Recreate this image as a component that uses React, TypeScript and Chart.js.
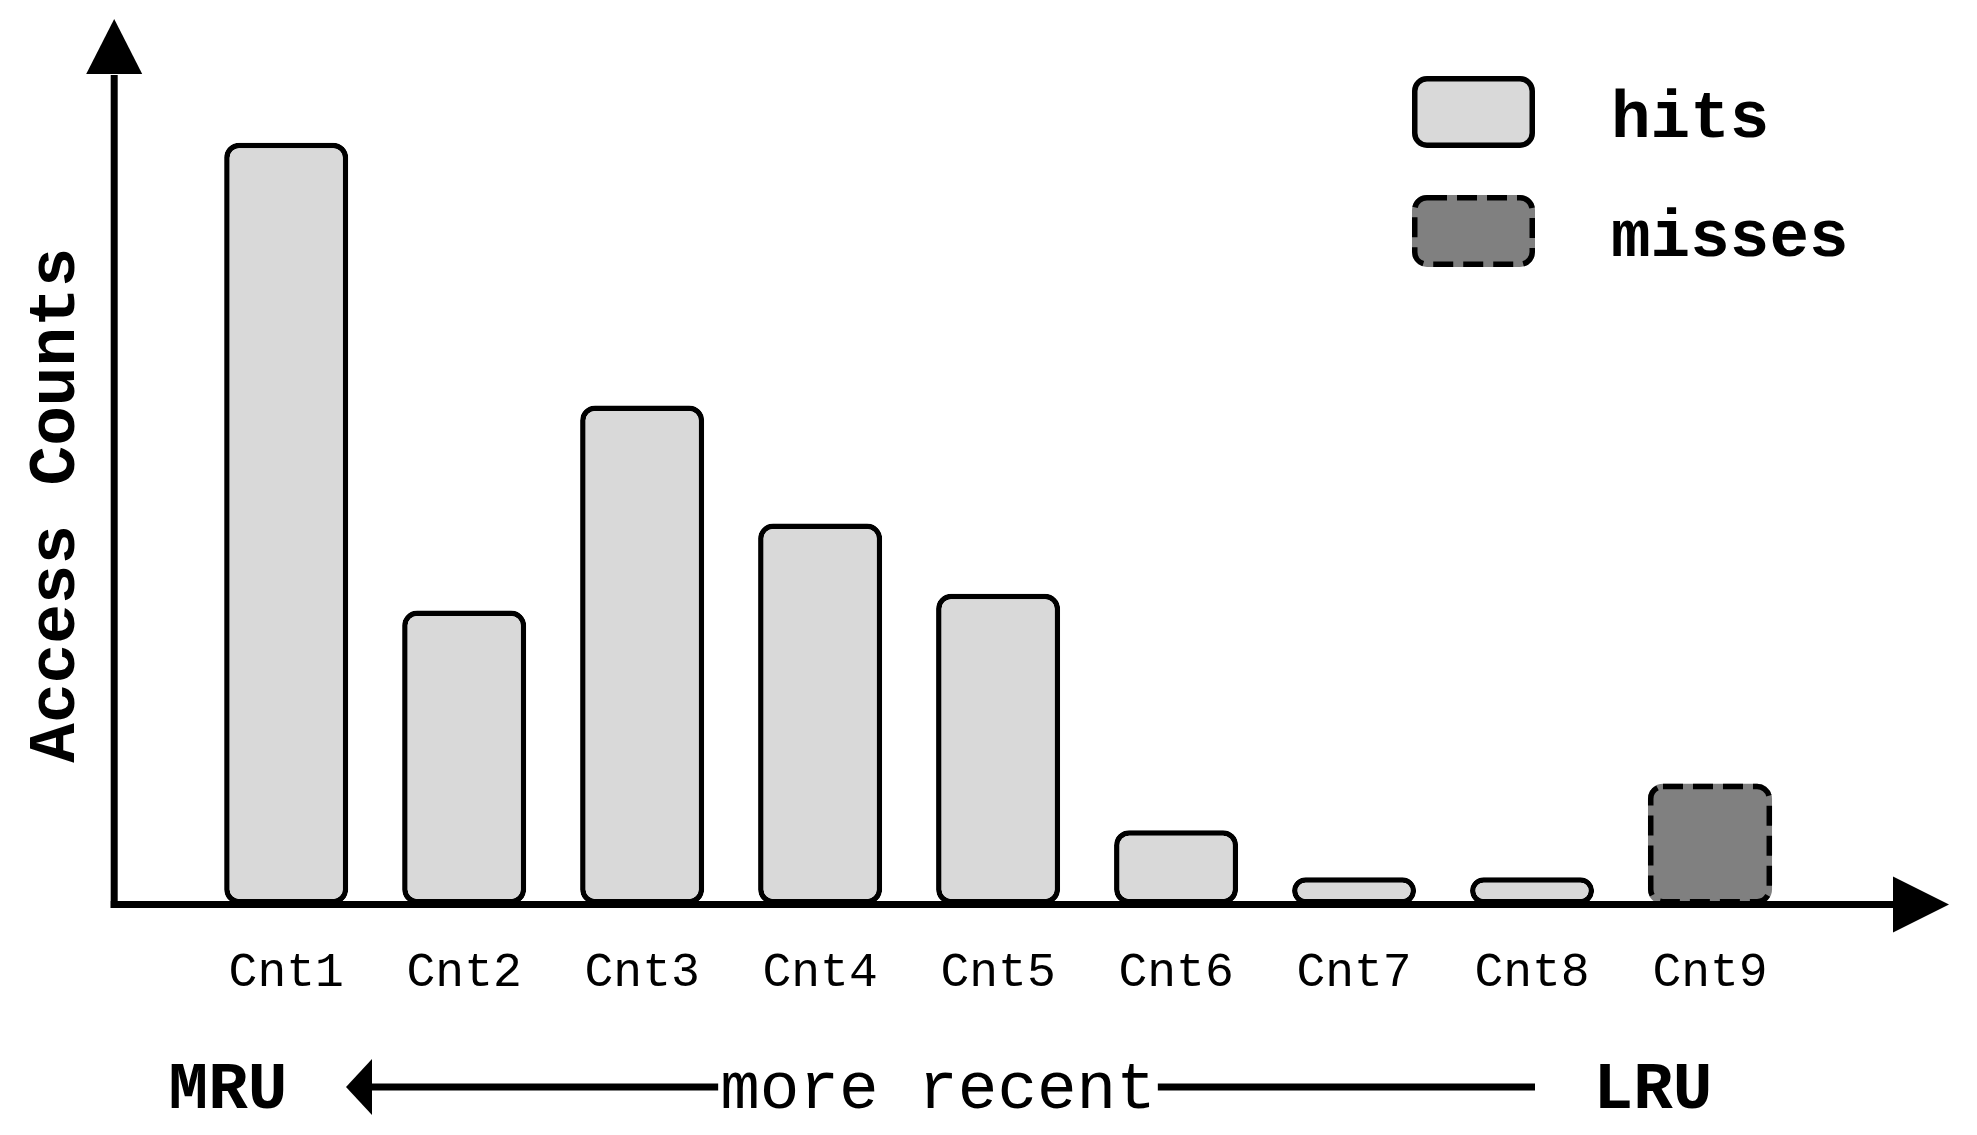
import React, { useEffect, useRef } from "react";
import { Chart, registerables } from "chart.js";

Chart.register(...registerables);

// ---- data ----
const categories = ["Cnt1", "Cnt2", "Cnt3", "Cnt4", "Cnt5", "Cnt6", "Cnt7", "Cnt8", "Cnt9"];
const hits = [95.4, 36.8, 62.5, 47.7, 38.9, 9.3, 3.4, 3.4, null];
const misses = [null, null, null, null, null, null, null, null, 15.1];
const seriesLabels = ["hits", "misses"];
const yAxisTitle = "Access Counts";
const recencyLeft = "MRU";
const recencyMiddle = "more recent";
const recencyRight = "LRU";
const Y_MAX = 100;

// ---- style ----
const FONT = "'Liberation Mono', 'Courier New', monospace";
const HIT_FILL = "#d9d9d9";
const MISS_FILL = "#808080";
const BORDER_W = 5.5;
const RADIUS = 15;
const MISS_DASH = [20, 10];
const AXIS_W = 7;

function arrowHead(ctx: CanvasRenderingContext2D, pts: number[][]) {
  ctx.beginPath();
  ctx.moveTo(pts[0][0], pts[0][1]);
  for (let i = 1; i < pts.length; i++) ctx.lineTo(pts[i][0], pts[i][1]);
  ctx.closePath();
  ctx.fill();
}

const decorPlugin = {
  id: "decor",
  afterDatasetsDraw(chart: any) {
    const ctx: CanvasRenderingContext2D = chart.ctx;
    const area = chart.chartArea;
    const yS = chart.scales.y;

    // dashed outline for the misses bars
    const meta = chart.getDatasetMeta(1);
    meta.data.forEach((el: any, i: number) => {
      if (misses[i] == null) return;
      const p = el.getProps(["x", "y", "base", "width"], true);
      const lw = BORDER_W;
      const top = Math.min(p.y, p.base);
      const h = Math.abs(p.base - p.y);
      ctx.save();
      ctx.setLineDash(MISS_DASH);
      ctx.lineWidth = lw;
      ctx.strokeStyle = "#000";
      ctx.beginPath();
      (ctx as any).roundRect(p.x - p.width / 2 + lw / 2, top + lw / 2, p.width - lw, h - lw, RADIUS - lw / 2);
      ctx.stroke();
      ctx.restore();
    });

    // axes with arrows
    const y0 = yS.getPixelForValue(0);
    const ax = area.left - 83;
    ctx.save();
    ctx.fillStyle = "#000";
    ctx.strokeStyle = "#000";
    ctx.lineWidth = AXIS_W;
    ctx.lineCap = "butt";
    // y axis
    const yArrowBase = area.top - 32;
    const yArrowTip = area.top - 87;
    ctx.beginPath();
    ctx.moveTo(ax, y0 + AXIS_W / 2);
    ctx.lineTo(ax, yArrowBase + 1);
    ctx.stroke();
    arrowHead(ctx, [
      [ax, yArrowTip],
      [ax - 28, yArrowBase],
      [ax + 28, yArrowBase],
    ]);
    // x axis
    const xArrowBase = area.right + 94;
    const xArrowTip = area.right + 150;
    ctx.beginPath();
    ctx.moveTo(ax - AXIS_W / 2, y0);
    ctx.lineTo(xArrowBase + 1, y0);
    ctx.stroke();
    arrowHead(ctx, [
      [xArrowTip, y0],
      [xArrowBase, y0 - 28],
      [xArrowBase, y0 + 28],
    ]);
    ctx.restore();
  },
  afterDraw(chart: any) {
    const ctx: CanvasRenderingContext2D = chart.ctx;
    ctx.save();
    // legend
    const lx = 1412, ly = 76, bw = 123, bh = 72, step = 119;
    chart.data.datasets.forEach((ds: any, i: number) => {
      const top = ly + i * step;
      ctx.fillStyle = ds.backgroundColor;
      ctx.beginPath();
      (ctx as any).roundRect(lx, top, bw, bh, RADIUS);
      ctx.fill();
      ctx.lineWidth = BORDER_W;
      ctx.strokeStyle = "#000";
      ctx.setLineDash(i === 1 ? MISS_DASH : []);
      ctx.beginPath();
      (ctx as any).roundRect(lx + BORDER_W / 2, top + BORDER_W / 2, bw - BORDER_W, bh - BORDER_W, RADIUS - BORDER_W / 2);
      ctx.stroke();
      ctx.setLineDash([]);
      ctx.fillStyle = "#000";
      ctx.font = `bold 66px ${FONT}`;
      ctx.textAlign = "left";
      ctx.textBaseline = "alphabetic";
      ctx.fillText(ds.label, 1611, top + 61);
    });

    // recency annotation
    const by = 1087;
    const base = 1108;
    ctx.font = `bold 66px ${FONT}`;
    ctx.textAlign = "center";
    ctx.fillText(recencyLeft, 228, base);
    ctx.fillText(recencyRight, 1653, base);
    ctx.font = `66px ${FONT}`;
    ctx.fillText(recencyMiddle, 938, base);
    const mw = ctx.measureText(recencyMiddle).width;
    ctx.lineWidth = AXIS_W;
    ctx.strokeStyle = "#000";
    ctx.beginPath();
    ctx.moveTo(371, by);
    ctx.lineTo(938 - mw / 2 - 2, by);
    ctx.moveTo(938 + mw / 2 + 2, by);
    ctx.lineTo(1535, by);
    ctx.stroke();
    arrowHead(ctx, [
      [346, by],
      [372, by - 28],
      [372, by + 28],
    ]);
    ctx.restore();
  },
};

export default function App() {
  const ref = useRef<HTMLCanvasElement>(null);
  useEffect(() => {
    const chart = new Chart(ref.current as HTMLCanvasElement, {
      type: "bar",
      data: {
        labels: categories,
        datasets: [
          {
            label: seriesLabels[0],
            data: hits,
            backgroundColor: HIT_FILL,
            borderColor: "#000",
            borderWidth: BORDER_W,
            borderRadius: RADIUS,
            borderSkipped: false,
            grouped: false,
            barPercentage: 0.697,
            categoryPercentage: 1,
          } as any,
          {
            label: seriesLabels[1],
            data: misses,
            backgroundColor: MISS_FILL,
            borderColor: "#000",
            borderWidth: 0,
            borderRadius: RADIUS,
            borderSkipped: false,
            grouped: false,
            barPercentage: 0.697,
            categoryPercentage: 1,
          } as any,
        ],
      },
      options: {
        responsive: false,
        devicePixelRatio: 1,
        animation: false,
        layout: { padding: { left: 14, right: 178, top: 106, bottom: 93 } },
        plugins: {
          legend: { display: false },
          tooltip: { enabled: false },
        },
        scales: {
          x: {
            type: "category",
            offset: true,
            grid: { display: false, drawTicks: false },
            border: { display: false },
            ticks: {
              color: "#000",
              font: { family: FONT, size: 48 },
              padding: 40,
              maxRotation: 0,
              autoSkip: false,
            },
          },
          y: {
            min: 0,
            max: Y_MAX,
            grid: { display: false, drawTicks: false },
            border: { display: false },
            ticks: { display: false },
            title: {
              display: true,
              text: yAxisTitle,
              color: "#000",
              font: { family: FONT, size: 66, weight: "bold" },
              padding: { top: 4, bottom: 100 },
            },
          },
        },
      } as any,
      plugins: [decorPlugin],
    });
    return () => chart.destroy();
  }, []);
  return (
    <div style={{ position: "fixed", left: 0, top: 0, width: 1977, height: 1135, background: "#fff" }}>
      <canvas ref={ref} width={1977} height={1135} style={{ display: "block", width: 1977, height: 1135 }} />
    </div>
  );
}
